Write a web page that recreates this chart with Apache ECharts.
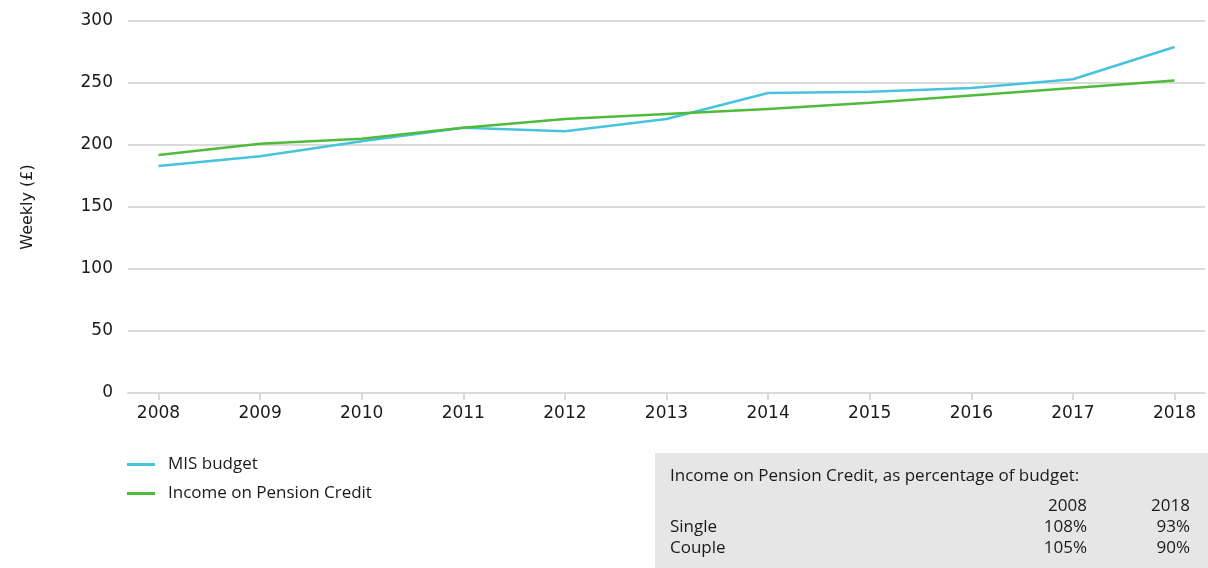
<!DOCTYPE html>
<html>
<head>
<meta charset="utf-8">
<script src="https://cdn.jsdelivr.net/npm/echarts@6/dist/echarts.min.js"></script>
<style>
  html, body { margin: 0; padding: 0; background: #fff; }
  #chart { width: 1208px; height: 568px; }
</style>
</head>
<body>
<div id="chart"></div>
<script>
// years and weekly amounts (£)
var years = [2008, 2009, 2010, 2011, 2012, 2013, 2014, 2015, 2016, 2017, 2018];
var misBudget = [183, 191, 203, 214, 211, 221, 242, 243, 246, 253, 279];
var pensionCredit = [192, 201, 205, 214, 221, 225, 229, 234, 240, 246, 252];

// table in the grey box
var boxTitle = "Income on Pension Credit, as percentage of budget:";
var boxYears = ["2008", "2018"];
var boxRows = ["Single", "Couple"];
var boxSingle = ["108%", "93%"];
var boxCouple = ["105%", "90%"];

var blue = "#48c3de";
var green = "#50bb3a";
var gridGrey = "#dadada";
var textCol = "#1a1a1a";

function pairs(vals) {
  return years.map(function (y, i) { return [y, vals[i]]; });
}

var chart = echarts.init(document.getElementById("chart"));

var boxFont = "17px 'Open Sans', sans-serif";
var axisFont = "DejaVu Sans, sans-serif";
var option = {
  animation: false,
  grid: { left: 128, right: 3, top: 21, bottom: 175 },
  legend: {
    orient: "vertical",
    left: 122,
    top: 451,
    itemGap: 12,
    itemWidth: 28,
    itemHeight: 3,
    icon: "rect",
    textStyle: { fontFamily: "'Open Sans', sans-serif", fontSize: 17, color: textCol, padding: [0, 0, 0, 8] },
    data: ["MIS budget", "Income on Pension Credit"]
  },
  xAxis: {
    type: "value",
    min: 2007.7,
    max: 2018.3,
    axisLine: { show: true, lineStyle: { color: gridGrey, width: 2 } },
    axisTick: { show: true, customValues: years, length: 7, lineStyle: { color: gridGrey, width: 2 } },
    axisLabel: {
      customValues: years,
      formatter: function (v) { return String(v); },
      fontFamily: axisFont,
      fontSize: 17,
      color: textCol,
      margin: 12
    },
    splitLine: { show: false }
  },
  yAxis: {
    type: "value",
    min: 0,
    max: 300,
    interval: 50,
    name: "Weekly (£)",
    nameLocation: "middle",
    nameGap: 92,
    nameTextStyle: { fontFamily: axisFont, fontSize: 16, color: textCol },
    axisLine: { show: false },
    axisTick: { show: false },
    axisLabel: {
      fontFamily: axisFont,
      fontSize: 17,
      color: textCol,
      margin: 15,
      padding: [2, 0, 0, 0]
    },
    splitLine: { lineStyle: { color: gridGrey, width: 2 } }
  },
  series: [
    {
      name: "MIS budget",
      type: "line",
      data: pairs(misBudget),
      symbol: "none",
      color: blue,
      lineStyle: { color: blue, width: 2.5 },
      z: 3
    },
    {
      name: "Income on Pension Credit",
      type: "line",
      data: pairs(pensionCredit),
      symbol: "none",
      color: green,
      lineStyle: { color: green, width: 2.5 },
      z: 4
    }
  ],
  graphic: [
    {
      type: "group",
      left: 655,
      top: 453,
      children: [
        { type: "rect", shape: { x: 0, y: 0, width: 553, height: 115 }, style: { fill: "#e6e6e6" } },
        { type: "text", x: 15, y: 15, style: { text: boxTitle, font: boxFont, fill: textCol } },
        { type: "text", x: 432, y: 45, style: { text: boxYears[0], font: boxFont, fill: textCol, align: "right" } },
        { type: "text", x: 535, y: 45, style: { text: boxYears[1], font: boxFont, fill: textCol, align: "right" } },
        { type: "text", x: 15, y: 66, style: { text: boxRows[0], font: boxFont, fill: textCol } },
        { type: "text", x: 432, y: 66, style: { text: boxSingle[0], font: boxFont, fill: textCol, align: "right" } },
        { type: "text", x: 535, y: 66, style: { text: boxSingle[1], font: boxFont, fill: textCol, align: "right" } },
        { type: "text", x: 15, y: 87, style: { text: boxRows[1], font: boxFont, fill: textCol } },
        { type: "text", x: 432, y: 87, style: { text: boxCouple[0], font: boxFont, fill: textCol, align: "right" } },
        { type: "text", x: 535, y: 87, style: { text: boxCouple[1], font: boxFont, fill: textCol, align: "right" } }
      ]
    }
  ]
};

chart.setOption(option);
</script>
</body>
</html>
